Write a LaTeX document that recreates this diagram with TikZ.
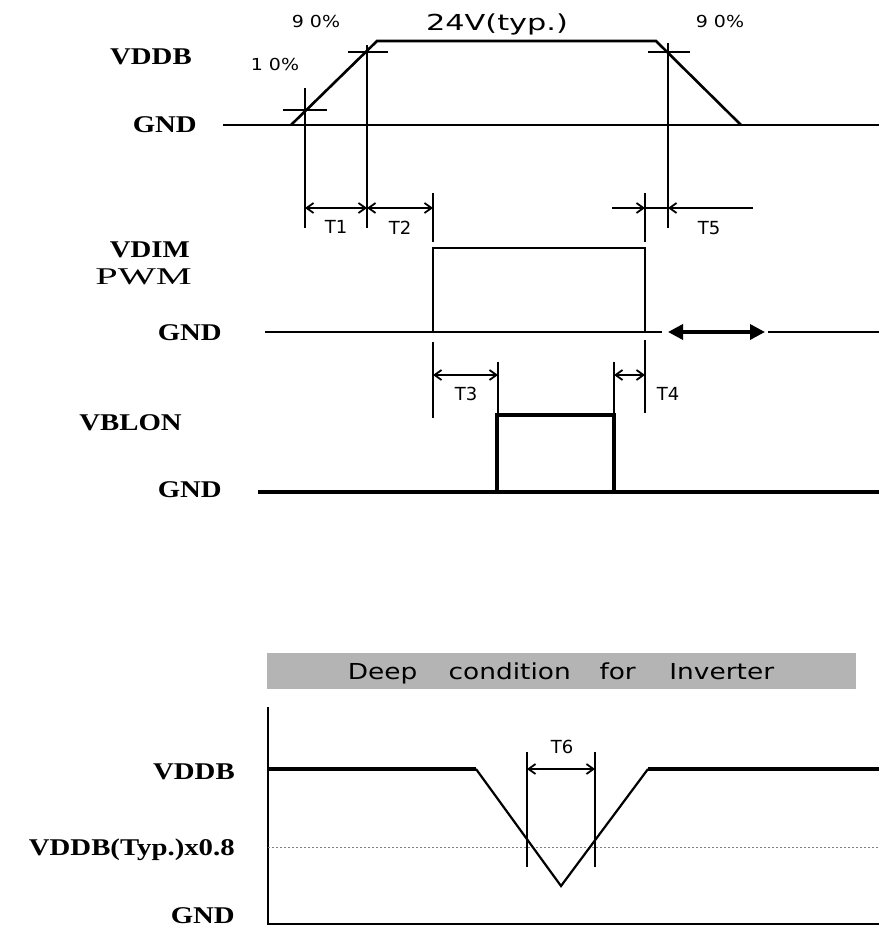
\documentclass[tikz,border=0pt]{standalone}
\usepackage{fontspec}
\setmainfont{Liberation Serif}
\newfontfamily\lblfont{DejaVu Sans}
\usetikzlibrary{arrows.meta}
\definecolor{bannergray}{RGB}{180,180,180}
\tikzset{
  sig/.style={line width=2.6pt, line join=miter},
  sigthick/.style={line width=3.6pt},
  gnd/.style={line width=2.2pt},
  guide/.style={line width=1.6pt},
  barb/.tip={Straight Barb[length=7pt,width=10pt,line width=1.8pt]},
  dim/.style={line width=1.4pt, barb-barb},
  dimto/.style={line width=1.4pt, -barb},
  pin/.style={font=\fontsize{24}{26}\selectfont\bfseries, xscale=1.2, anchor=east, inner sep=0pt},
  pct/.style={font=\lblfont\fontsize{16.5}{18}\selectfont, xscale=1.15, inner sep=0pt},
  tlbl/.style={font=\lblfont\fontsize{18}{20}\selectfont, inner sep=0pt},
}
\begin{document}
\begin{tikzpicture}[x=1pt, y=-1pt]
  \useasboundingbox (0,0) rectangle (879,931);

  % signal names
  \node[pin] (vddbA) at (192,57) {VDDB};
  \node[pin] (gndA) at (197,125) {GND};
  \node[pin] (vdim) at (190,250) {VDIM};
  \node[pin, font=\fontsize{24}{26}\selectfont, xscale=1.4] (pwm) at (192,277) {PWM};
  \node[pin] (gndB) at (222,333) {GND};
  \node[pin] (vblon) at (182,423) {VBLON};
  \node[pin] (gndC) at (222,490) {GND};

  % VDDB ramp up / down
  \coordinate (r0) at (291,125); \coordinate (r1) at (377,41);
  \coordinate (f0) at (656,41);  \coordinate (f1) at (741,125);
  \draw[gnd] (223,125) -- (879,125);
  \draw[sig] (r0) -- (r1) -- (f0) -- (f1);
  \node[pct] (p90a) at (316,21) {9 0\%};
  \node[pct] (p10) at (275,64) {1 0\%};
  \node[pct] (p90b) at (720,21) {9 0\%};
  \node[pct, font=\lblfont\fontsize{22}{24}\selectfont, xscale=1.2] (typ) at (497,24) {24V(typ.)};
  \draw[guide] (283,110) -- (327,110) (305,88) -- (305,228);
  \draw[guide] (348,52) -- (388,52) (367,45) -- (367,228);
  \draw[guide] (648,52) -- (690,52) (668,43) -- (668,228);

  % T1, T2, T5
  \draw[guide] (433,193) -- (433,242) (645,193) -- (645,242);
  \draw[dim] (305,208) -- (367,208) node[tlbl, midway, below=12pt] (t1) {T1};
  \draw[dim] (367,208) -- (433,208) node[tlbl, midway, below=12pt] (t2) {T2};
  \draw[dimto] (612,208) -- (645,208);
  \draw[guide] (645,208) -- (668,208);
  \draw[dimto] (753,208) -- (668,208);
  \node[tlbl] (t5) at (709,228) {T5};

  % VDIM PWM
  \draw[sig] (433,332) -- (433,248) -- (645,248) -- (645,332);
  \draw[gnd] (265,332) -- (662,332) (768,332) -- (879,332);
  \draw[line width=3.5pt, {Triangle[length=15pt,width=15pt]}-{Triangle[length=15pt,width=15pt]}] (668,332) -- (765,332);
  \draw[guide] (433,342) -- (433,418) (645,340) -- (645,413);

  % T3, T4
  \draw[guide] (498,362) -- (498,415) (614,362) -- (614,415);
  \draw[dim] (433,375) -- (498,375);
  \draw[dim] (614,375) -- (645,375);
  \node[tlbl] (t3) at (466,394) {T3};
  \node[tlbl] (t4) at (668,394) {T4};

  % VBLON
  \draw[sigthick] (497,492) -- (497,415) -- (614,415) -- (614,492);
  \draw[sigthick] (258,492) -- (879,492);

  % deep condition
  \fill[bannergray] (267,653) rectangle (856,689);
  \node[font=\lblfont\fontsize{22}{24}\selectfont, xscale=1.2] (deep) at (561,673)
    {Deep\hspace{26pt}condition\hspace{24pt}for\hspace{28pt}Inverter};
  \node[pin] (vddbB) at (235,772) {VDDB};
  \node[pin] (typ8) at (235,850) {VDDB(Typ.)x0.8};
  \node[pin] (gndD) at (235,916) {GND};
  \draw[line width=1.8pt] (268,707) -- (268,924) -- (879,924);
  \draw[gray, line width=0.9pt, dash pattern=on 2pt off 2pt] (268,847) -- (879,847);
  \coordinate (d0) at (476,769); \coordinate (d1) at (561,886); \coordinate (d2) at (648,769);
  \draw[sigthick] (268,769) -- (d0);
  \draw[sig, line width=2.2pt] (d0) -- (d1) -- (d2);
  \draw[sigthick] (d2) -- (879,769);
  \draw[guide] (527,752) -- (527,867) (595,752) -- (595,867);
  \draw[dim] (527,769) -- (595,769);
  \node[tlbl] (t6) at (562,747) {T6};
\end{tikzpicture}
\end{document}
